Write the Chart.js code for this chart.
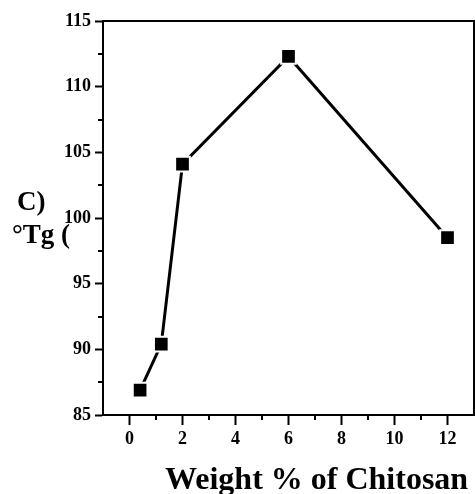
<!DOCTYPE html>
<html>
<head>
<meta charset="utf-8">
<script src="https://cdn.jsdelivr.net/npm/chart.js@4/dist/chart.umd.min.js"></script>
<style>
  body { margin: 0; background: #fff; }
  canvas { display: block; }
</style>
</head>
<body>
<canvas id="tgChart" width="475" height="494"></canvas>
<script>
// ─── Data ─────────────────────────────────────────────────────────────────────
const chitosanWt = [0.4, 1.2, 2, 6, 12];
const tgValues = [86.9, 90.4, 104.1, 112.3, 98.5];
const xTicks = [0, 2, 4, 6, 8, 10, 12];
const xMinor = [1, 3, 5, 7, 9, 11];
const yTicks = [85, 90, 95, 100, 105, 110, 115];
const yMinor = [87.5, 92.5, 97.5, 102.5, 107.5, 112.5];

const SERIF = '"Liberation Serif", "Times New Roman", serif';

// ─── Frame, minor ticks & titles ──────────────────────────────────────────────
const framePlugin = {
    id: 'frame',
    afterDraw(chart) {
        const ctx = chart.ctx;
        const a = chart.chartArea;
        const xs = chart.scales.x, ys = chart.scales.y;
        ctx.save();
        ctx.strokeStyle = '#000';
        ctx.lineWidth = 2;
        // top + right border
        ctx.beginPath();
        ctx.moveTo(a.left, a.top);
        ctx.lineTo(a.right, a.top);
        ctx.lineTo(a.right, a.bottom);
        ctx.stroke();
        // minor ticks
        ctx.beginPath();
        xMinor.forEach(v => {
            const px = Math.round(xs.getPixelForValue(v));
            ctx.moveTo(px, a.bottom);
            ctx.lineTo(px, a.bottom + 5);
        });
        yMinor.forEach(v => {
            const py = Math.round(ys.getPixelForValue(v));
            ctx.moveTo(a.left, py);
            ctx.lineTo(a.left - 5, py);
        });
        ctx.stroke();
        // titles
        ctx.fillStyle = '#000';
        ctx.textBaseline = 'alphabetic';
        ctx.textAlign = 'left';
        ctx.font = 'bold 32px ' + SERIF;
        ctx.fillText('Weight % of Chitosan', 165, 489);
        ctx.font = 'bold 27px ' + SERIF;
        ctx.fillText('C)', 17, 210);
        ctx.fillText('°Tg (', 12, 243);
        ctx.restore();
    }
};

// ─── Chart ────────────────────────────────────────────────────────────────────
const ctx = document.getElementById('tgChart').getContext('2d');
new Chart(ctx, {
    type: 'scatter',
    data: {
        datasets: [{
            data: chitosanWt.map((x, i) => ({ x: x, y: tgValues[i] })),
            showLine: true,
            borderColor: '#000',
            borderWidth: 3,
            pointStyle: 'rect',
            pointRadius: 10.4,
            pointHoverRadius: 10.4,
            pointBackgroundColor: '#000',
            pointBorderColor: '#fff',
            pointBorderWidth: 2
        }]
    },
    options: {
        responsive: false,
        animation: false,
        layout: { autoPadding: false, padding: { top: 21, right: 1, left: 0, bottom: 0 } },
        plugins: { legend: { display: false }, tooltip: { enabled: false } },
        scales: {
            x: {
                type: 'linear',
                min: -1,
                max: 13,
                afterBuildTicks: s => { s.ticks = xTicks.map(v => ({ value: v })); },
                afterFit: s => { s.height = 79; s.paddingLeft = 0; s.paddingRight = 0; },
                grid: { drawOnChartArea: false, drawTicks: true, tickLength: 10, tickColor: '#000', tickWidth: 2 },
                border: { color: '#000', width: 2 },
                ticks: { color: '#000', padding: 4, maxRotation: 0, font: { family: SERIF, size: 18, weight: 'bold' } }
            },
            y: {
                min: 85,
                max: 115,
                afterBuildTicks: s => { s.ticks = yTicks.map(v => ({ value: v })); },
                afterFit: s => { s.width = 103; s.paddingTop = 0; s.paddingBottom = 0; },
                grid: { drawOnChartArea: false, drawTicks: true, tickLength: 8, tickColor: '#000', tickWidth: 2 },
                border: { color: '#000', width: 2 },
                ticks: { color: '#000', padding: 4, font: { family: SERIF, size: 18, weight: 'bold' } }
            }
        }
    },
    plugins: [framePlugin]
});
</script>
</body>
</html>
